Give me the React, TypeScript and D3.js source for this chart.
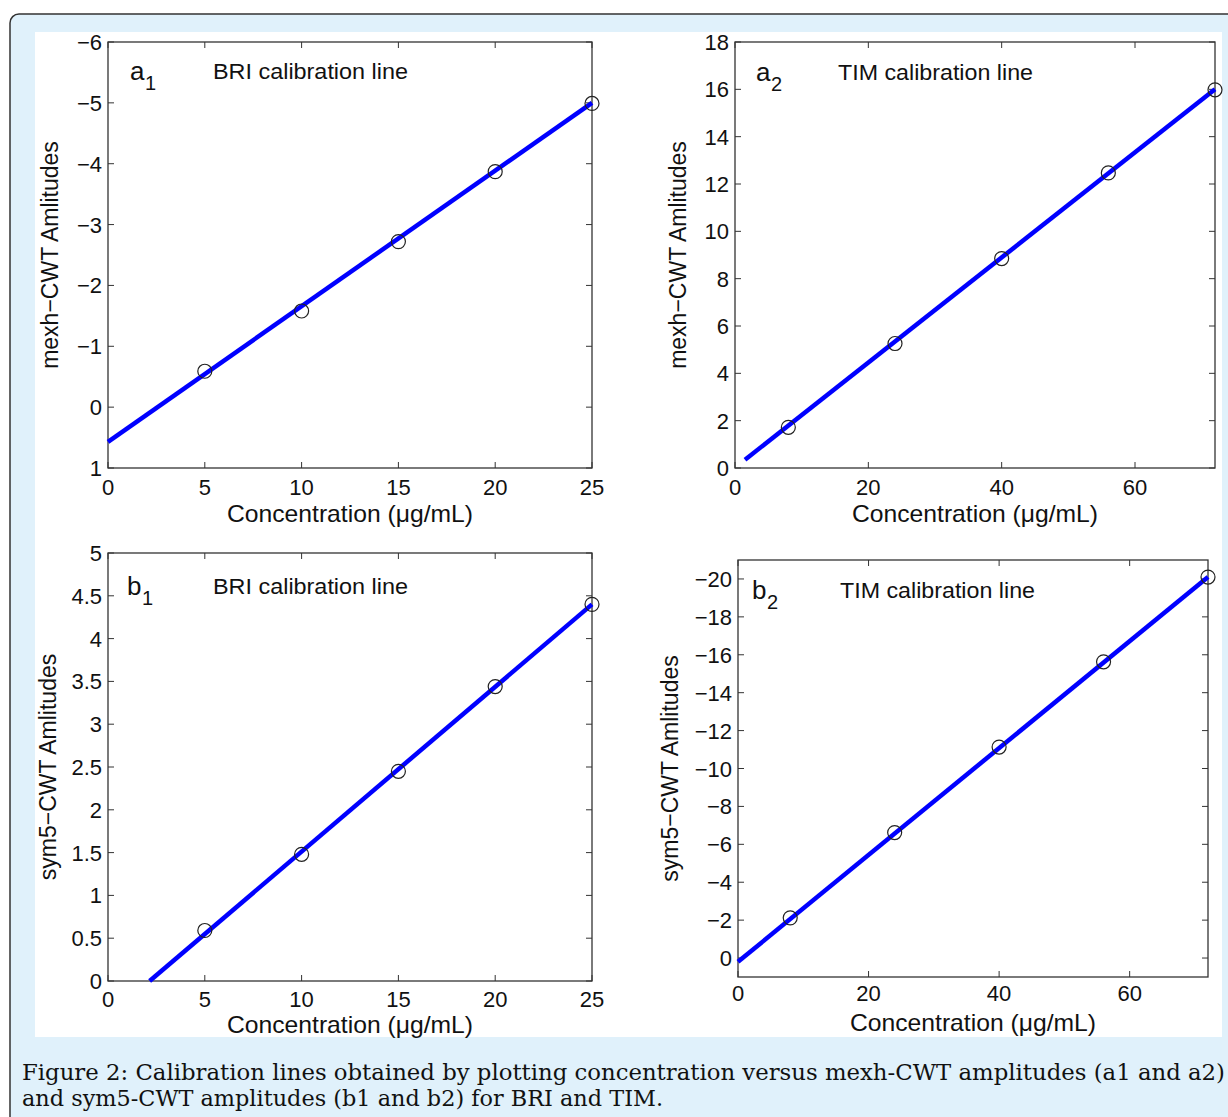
import { useEffect, useRef } from 'react';
import * as d3 from 'd3';

// concentrations (µg/mL) of the calibration standards
const briConc = [5, 10, 15, 20, 25];
const timConc = [8, 24, 40, 56, 72];

const a1Amp = [-0.59, -1.58, -2.72, -3.87, -4.99];
const a2Amp = [1.72, 5.26, 8.85, 12.47, 15.98];
const b1Amp = [0.59, 1.48, 2.45, 3.44, 4.4];
const b2Amp = [-2.12, -6.62, -11.13, -15.63, -20.1];

// fitted calibration line endpoints [x, y]
const a1Fit = [[0, 0.57], [25, -5.0]];
const a2Fit = [[1.5, 0.35], [72, 16]];
const b1Fit = [[2.15, 0], [25, 4.4]];
const b2Fit = [[0, 0.2], [72, -20.1]];

// tick values
const briXTicks = [0, 5, 10, 15, 20, 25];
const timXTicks = [0, 20, 40, 60];
const a1YTicks = [-6, -5, -4, -3, -2, -1, 0, 1];
const a2YTicks = [0, 2, 4, 6, 8, 10, 12, 14, 16, 18];
const b1YTicks = [0, 0.5, 1, 1.5, 2, 2.5, 3, 3.5, 4, 4.5, 5];
const b2YTicks = [-20, -18, -16, -14, -12, -10, -8, -6, -4, -2, 0];

const xLabel = 'Concentration (\u03bcg/mL)';
const caption1 = 'Figure 2: Calibration lines obtained by plotting concentration versus mexh-CWT amplitudes (a1 and a2)';
const caption2 = 'and sym5-CWT amplitudes (b1 and b2) for BRI and TIM.';

const panels = [
  { id: 'a', sub: '1', title: 'BRI calibration line', ylabel: 'mexh\u2212CWT Amlitudes',
    xs: briConc, ys: a1Amp, fit: a1Fit, xDomain: [0, 25], yDomain: [1, -6], xTicks: briXTicks, yTicks: a1YTicks,
    box: { l: 108, r: 592, t: 42, b: 468 }, letterX: 130, titleX: 213, letterY: 80, ylx: 58, xtY: 27, xlY: 522 },
  { id: 'a', sub: '2', title: 'TIM calibration line', ylabel: 'mexh\u2212CWT Amlitudes',
    xs: timConc, ys: a2Amp, fit: a2Fit, xDomain: [0, 72], yDomain: [0, 18], xTicks: timXTicks, yTicks: a2YTicks,
    box: { l: 735, r: 1215, t: 42, b: 468 }, letterX: 756, titleX: 838, letterY: 81, ylx: 686, xtY: 27, xlY: 522 },
  { id: 'b', sub: '1', title: 'BRI calibration line', ylabel: 'sym5\u2212CWT Amlitudes',
    xs: briConc, ys: b1Amp, fit: b1Fit, xDomain: [0, 25], yDomain: [0, 5], xTicks: briXTicks, yTicks: b1YTicks,
    box: { l: 108, r: 592, t: 553, b: 981 }, letterX: 127, titleX: 213, letterY: 595, ylx: 56, xtY: 26, xlY: 1033 },
  { id: 'b', sub: '2', title: 'TIM calibration line', ylabel: 'sym5\u2212CWT Amlitudes',
    xs: timConc, ys: b2Amp, fit: b2Fit, xDomain: [0, 72], yDomain: [1, -21], xTicks: timXTicks, yTicks: b2YTicks,
    box: { l: 738, r: 1208, t: 560, b: 977 }, letterX: 752, titleX: 840, letterY: 599, ylx: 678, xtY: 24, xlY: 1031 },
];

const fmt = (v: number) => String(v).replace('-', '\u2212');

function App() {
  const svgRef = useRef<SVGSVGElement>(null);

  useEffect(() => {
    document.body.style.margin = '0';
    const svg = d3.select(svgRef.current);
    svg.selectAll('*').remove();

    // page frame
    svg.append('rect').attr('x', 0).attr('y', 0).attr('width', 1228).attr('height', 1117).attr('fill', '#fff');
    svg.append('rect')
      .attr('x', 10).attr('y', 14).attr('width', 1260).attr('height', 1140).attr('rx', 9)
      .attr('fill', '#e0f1fb').attr('stroke', '#333').attr('stroke-width', 1.5);
    svg.append('rect').attr('x', 35).attr('y', 32).attr('width', 1187).attr('height', 1005).attr('fill', '#fff');

    panels.forEach(p => {
      const { l, r, t, b } = p.box;
      const x = d3.scaleLinear().domain(p.xDomain).range([l, r]);
      const y = d3.scaleLinear().domain(p.yDomain).range([b, t]);
      const g = svg.append('g').attr('font-family', '"Liberation Sans", Arial, sans-serif').attr('fill', '#111');

      // ticks on all four sides, pointing inward
      const tl = 6;
      p.xTicks.forEach(v => {
        g.append('line').attr('x1', x(v)).attr('x2', x(v)).attr('y1', b).attr('y2', b - tl).attr('stroke', '#333');
        g.append('line').attr('x1', x(v)).attr('x2', x(v)).attr('y1', t).attr('y2', t + tl).attr('stroke', '#333');
        g.append('text').attr('x', x(v)).attr('y', b + p.xtY).attr('text-anchor', 'middle')
          .attr('font-size', 22).text(fmt(v));
      });
      p.yTicks.forEach(v => {
        g.append('line').attr('x1', l).attr('x2', l + tl).attr('y1', y(v)).attr('y2', y(v)).attr('stroke', '#333');
        g.append('line').attr('x1', r).attr('x2', r - tl).attr('y1', y(v)).attr('y2', y(v)).attr('stroke', '#333');
        g.append('text').attr('x', l - 6).attr('y', y(v) + 8).attr('text-anchor', 'end')
          .attr('font-size', 22).text(fmt(v));
      });

      g.append('rect').attr('x', l).attr('y', t).attr('width', r - l).attr('height', b - t)
        .attr('fill', 'none').attr('stroke', '#333').attr('stroke-width', 1.3);

      // fitted line
      g.append('path')
        .attr('d', d3.line().x(d => x(d[0])).y(d => y(d[1]))(p.fit as [number, number][]))
        .attr('stroke', '#0000ff').attr('stroke-width', 4.5).attr('fill', 'none');

      // measured points
      p.xs.forEach((xv, i) => {
        g.append('circle').attr('cx', x(xv)).attr('cy', y(p.ys[i])).attr('r', 7)
          .attr('fill', 'none').attr('stroke', '#222').attr('stroke-width', 1.2);
      });

      // panel letter with subscript and title
      g.append('text').attr('x', p.letterX).attr('y', p.letterY).attr('font-size', 26).text(p.id);
      g.append('text').attr('x', p.letterX + 15).attr('y', p.letterY + 10).attr('font-size', 20).text(p.sub);
      g.append('text').attr('x', p.titleX).attr('y', p.letterY - 1).attr('font-size', 22)
        .attr('textLength', 195).attr('lengthAdjust', 'spacingAndGlyphs').text(p.title);

      // axis labels
      g.append('text').attr('x', (l + r) / 2).attr('y', p.xlY).attr('text-anchor', 'middle')
        .attr('font-size', 24).attr('textLength', 246).attr('lengthAdjust', 'spacingAndGlyphs').text(xLabel);
      g.append('text').attr('transform', `translate(${p.ylx},${(t + b) / 2}) rotate(-90)`)
        .attr('text-anchor', 'middle').attr('font-size', 23).text(p.ylabel);
    });

    // caption
    const cap = svg.append('g').attr('font-family', '"DejaVu Serif", "Liberation Serif", serif')
      .attr('font-size', 22).attr('fill', '#111');
    cap.append('text').attr('x', 22).attr('y', 1080).attr('textLength', 1203).attr('lengthAdjust', 'spacingAndGlyphs').text(caption1);
    cap.append('text').attr('x', 22).attr('y', 1106).attr('textLength', 641).attr('lengthAdjust', 'spacingAndGlyphs').text(caption2);
  }, []);

  return <svg ref={svgRef} width={1228} height={1117} style={{ display: 'block' }} />;
}

export default App;
